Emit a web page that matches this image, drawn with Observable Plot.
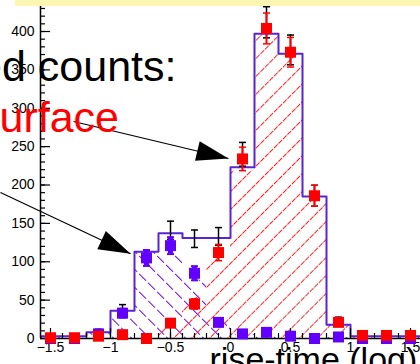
<!DOCTYPE html>
<html>
<head>
<meta charset="utf-8">
<script src="https://cdn.jsdelivr.net/npm/d3@7"></script>
<script src="https://cdn.jsdelivr.net/npm/@observablehq/plot@0.6"></script>
<style>
  html, body { margin: 0; padding: 0; background: #fff; }
  svg { display: block; }
</style>
</head>
<body>
<div id="chart"></div>
<script>
// Rise-time histogram (log scale), bins of width 0.2
const binCenters   = [-1.5, -1.3, -1.1, -0.9, -0.7, -0.5, -0.3, -0.1, 0.1, 0.3, 0.5, 0.7, 0.9, 1.1, 1.3, 1.5];
const binWidth     = 0.2;
// fitted model components
const bulkModel    = [3, 3, 8, 36, 113, 117, 76, 25, 5, 2, 1, 0, 1, 1, 1, 1];
const surfaceModel = [0, 0, 0, 0, 0, 20, 55, 106, 218, 395, 370, 185, 17, 2, 2, 2];
// measured counts per component
const bulkData     = [0, 0, 6, 33, 105, 121, 85, 21, 6, 8, 3, 0, 2, 0, 0, 0];
const surfaceData  = [1, 1, 3, 5, 0, 20, 45, 112, 234, 404, 373, 186, 21, 4, 4, 4];

const xTickLabels  = [-1.5, -1, -0.5, 0, 0.5, 1, 1.5];
const yTickLabels  = [0, 50, 100, 150, 200, 250, 300, 350, 400];
const xMinorTicks  = d3.range(-15, 16).map(i => i / 10);
const yMinorTicks  = d3.range(0, 45).map(i => i * 10);

// annotation arrows: tail and head in data units
const arrowTails   = [[-1.308, 282.7], [-1.917, 190.2]];
const arrowHeads   = [[-0.017, 234.5], [-0.833, 110.4]];

const xDomain = [-1.5833, 1.5833];
const yDomain = [0, 440.4];
const W = 420, H = 364, mL = 40, mR = 0, mT = 0, mB = 26;

const bulkColor = "#6100ff";
const outlineColor = "#5a24d4";

const bins = binCenters.map((c, i) => ({
  x1: c - binWidth / 2, x2: c + binWidth / 2, c,
  bulk: bulkModel[i], surface: surfaceModel[i],
  total: bulkModel[i] + surfaceModel[i],
  bData: bulkData[i], sData: surfaceData[i],
  tData: bulkData[i] + surfaceData[i]
}));
const outline = bins.map(b => ({x: b.x1, y: b.total}))
  .concat([{x: bins[bins.length - 1].x2, y: bins[bins.length - 1].total}]);

const errLo = v => Math.max(0, v - Math.sqrt(v));
const errHi = v => v + Math.sqrt(v);

// horizontal cap for error bars
const capSymbol = {draw(ctx, size) { const r = Math.sqrt(size / Math.PI); ctx.moveTo(-r, 0); ctx.lineTo(r, 0); }};
// filled arrow head pointing along +x, tip at origin
const headSymbol = {draw(ctx, size) {
  const s = Math.sqrt(size / Math.PI) / 10;
  ctx.moveTo(0, 0); ctx.lineTo(-32 * s, -10 * s); ctx.lineTo(-32 * s, 10 * s); ctx.closePath();
}};
const pxX = (W - mL - mR) / (xDomain[1] - xDomain[0]);
const pxY = (H - mT - mB) / (yDomain[1] - yDomain[0]);
const arrows = arrowTails.map((t, i) => {
  const h = arrowHeads[i];
  const ang = Math.atan2(-(h[1] - t[1]) * pxY, (h[0] - t[0]) * pxX) * 180 / Math.PI;
  return {x1: t[0], y1: t[1], x2: h[0], y2: h[1], angle: ang};
});

const caps = (key, filterZero) => bins.filter(b => !filterZero || b[key] > 0)
  .flatMap(b => [{x: b.c, y: errLo(b[key])}, {x: b.c, y: errHi(b[key])}]);

const font = "'Liberation Sans', Arial, Helvetica, sans-serif";

const plot = Plot.plot({
  width: W, height: H,
  marginLeft: mL, marginRight: mR, marginTop: mT, marginBottom: mB,
  x: {domain: xDomain},
  y: {domain: yDomain},
  style: {fontFamily: font, background: "#fff", color: "#000", overflow: "hidden"},
  marks: [
    // model components, hatched
    Plot.rectY(bins, {x1: "x1", x2: "x2", y: "bulk", fill: "url(#bulkHatch)", clip: true}),
    Plot.rectY(bins, {x1: "x1", x2: "x2", y: "surface", fill: "url(#surfHatch)", clip: true}),
    // model sum
    Plot.line(outline, {x: "x", y: "y", curve: "step-after", stroke: outlineColor, strokeWidth: 2, clip: true}),
    // frame axes
    Plot.ruleY([0], {stroke: "#000", strokeWidth: 1.5}),
    Plot.ruleX([xDomain[0]], {stroke: "#000", strokeWidth: 1.5}),
    Plot.ruleX(xTickLabels, {x: d => d, y1: 0, y2: 0, insetBottom: 10, stroke: "#000", strokeWidth: 1.2}),
    Plot.ruleX(xMinorTicks, {x: d => d, y1: 0, y2: 0, insetBottom: 5, stroke: "#000", strokeWidth: 1.2}),
    Plot.ruleY(yTickLabels, {y: d => d, x1: xDomain[0], x2: xDomain[0], insetRight: -10, stroke: "#000", strokeWidth: 1.2}),
    Plot.ruleY(yMinorTicks, {y: d => d, x1: xDomain[0], x2: xDomain[0], insetRight: -5, stroke: "#000", strokeWidth: 1.2}),
    Plot.axisX(xTickLabels, {tickSize: 0, tickPadding: 4, fontSize: 14, tickFormat: d3.format(""), label: null}),
    Plot.axisY(yTickLabels, {tickSize: 0, tickPadding: 6, fontSize: 14, label: null}),
    // total measured counts
    Plot.ruleX(bins.filter(b => b.tData > 0), {x: "c", y1: b => errLo(b.tData), y2: b => errHi(b.tData), stroke: "#000", strokeWidth: 1.5}),
    Plot.dot(caps("tData", true), {x: "x", y: "y", symbol: capSymbol, r: 3.5, fill: "none", stroke: "#000", strokeWidth: 1.5}),
    // bulk measured counts
    Plot.ruleX(bins.filter(b => b.bData > 0), {x: "c", y1: b => errLo(b.bData), y2: b => errHi(b.bData), stroke: bulkColor, strokeWidth: 5}),
    Plot.dot(caps("bData", true), {x: "x", y: "y", symbol: capSymbol, r: 3.5, fill: "none", stroke: bulkColor, strokeWidth: 2}),
    Plot.dot(bins, {x: "c", y: "bData", symbol: "square", r: 6.2, fill: bulkColor, stroke: "none"}),
    // surface measured counts
    Plot.ruleX(bins.filter(b => b.sData > 0), {x: "c", y1: b => errLo(b.sData), y2: b => errHi(b.sData), stroke: "#ff0000", strokeWidth: 2}),
    Plot.dot(caps("sData", true), {x: "x", y: "y", symbol: capSymbol, r: 3.5, fill: "none", stroke: "#ff0000", strokeWidth: 1.5}),
    Plot.dot(bins, {x: "c", y: "sData", symbol: "square", r: 6.2, fill: "#ff0000", stroke: "none"}),
    // annotation arrows
    Plot.link(arrows, {x1: "x1", y1: "y1", x2: "x2", y2: "y2", stroke: "#000", strokeWidth: 1.2}),
    Plot.dot(arrows, {x: "x2", y: "y2", symbol: headSymbol, r: 10, rotate: "angle", fill: "#000", stroke: "none"}),
    // annotation text
    Plot.text(["Fitted counts:"], {frameAnchor: "top-left", dx: 136, dy: 50.2, textAnchor: "end", fontSize: 43, fill: "#000"}),
    Plot.text(["Surface"], {frameAnchor: "top-left", dx: 78.5, dy: 100.7, textAnchor: "end", fontSize: 43, fill: "#ff0000"}),
    Plot.text(["rise-time (log)"], {frameAnchor: "top-left", dx: 169, dy: 346.1, textAnchor: "start", fontSize: 34, fill: "#000"}),
    // legend box edge along the top
    Plot.rect([0], {fill: "#fcf5b3", insetLeft: -25, insetBottom: 332})
  ]
});

// hatch patterns for the model fills
const defs = d3.select(plot).insert("defs", ":first-child");
function hatch(id, angle, color, dash) {
  const p = defs.append("pattern").attr("id", id)
    .attr("patternUnits", "userSpaceOnUse")
    .attr("width", 12.7).attr("height", 12.7)
    .attr("patternTransform", `rotate(${angle})`);
  p.append("line").attr("x1", 0).attr("x2", 12.7).attr("y1", 6.35).attr("y2", 6.35)
    .attr("stroke", color).attr("stroke-width", 1).attr("stroke-dasharray", dash);
}
hatch("surfHatch", -45, "#ff2020", "5.35 1");
hatch("bulkHatch", 45, bulkColor, "9.7 3");

document.getElementById("chart").appendChild(plot);
</script>
</body>
</html>
